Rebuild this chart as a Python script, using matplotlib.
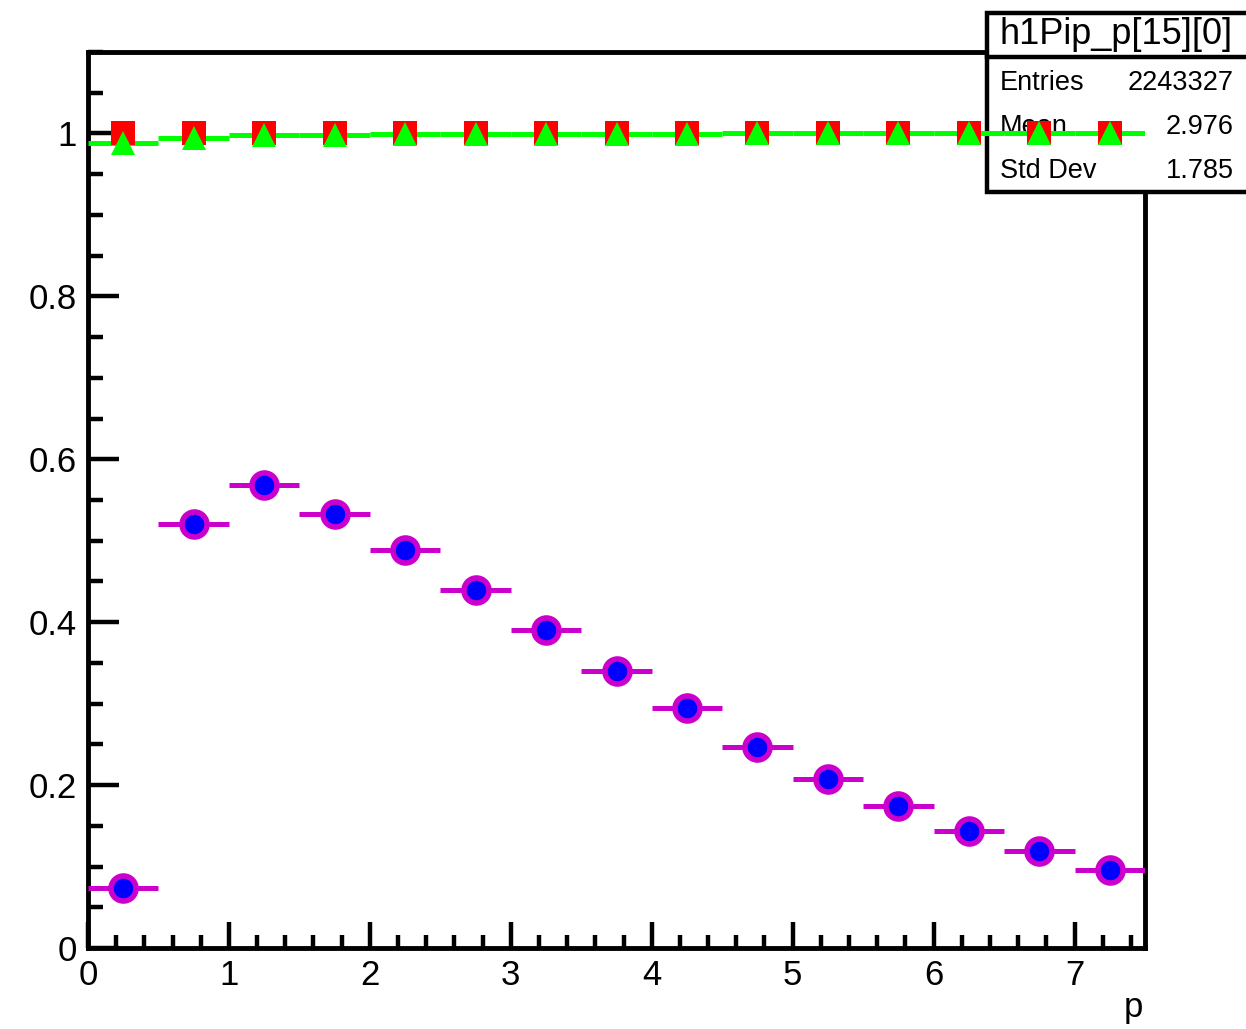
import numpy as np
import matplotlib
matplotlib.use("Agg")
import matplotlib.pyplot as plt
from matplotlib.ticker import MultipleLocator
from matplotlib.lines import Line2D
from matplotlib.patches import Rectangle

plt.rcParams['font.family'] = ['Liberation Sans', 'DejaVu Sans']

# bin edges in p (width 0.5)
bin_edges = np.arange(0, 7.51, 0.5)
bin_centers = 0.5 * (bin_edges[:-1] + bin_edges[1:])

# ratio values
blue_vals = [0.074, 0.521, 0.569, 0.533, 0.489, 0.440, 0.390, 0.340,
             0.295, 0.247, 0.208, 0.174, 0.144, 0.119, 0.096]
red_vals = [1.0] * 15
green_vals = [0.988, 0.995, 0.998, 0.998, 0.999, 0.999, 0.999, 0.9995,
              0.9995, 1.0, 1.0, 1.0, 1.0, 1.0, 1.0]

# stats box text
stat_title = "h1Pip_p[15][0]"
stat_labels = ["Entries", "Mean", "Std Dev"]
stat_values = ["2243327", "2.976", "1.785"]

W, H = 1246, 1029
fig = plt.figure(figsize=(W / 100, H / 100), dpi=100)
ax = fig.add_axes([88 / W, 1 - 948 / H, (1145 - 88) / W, (948 - 52) / H])

magenta = '#cc00cc'
xerr = 0.25

# blue points with magenta horizontal bars
ax.errorbar(bin_centers, blue_vals, xerr=xerr, fmt='o', color=magenta,
            ecolor=magenta, elinewidth=3.6, capsize=0,
            markerfacecolor='#0000ff', markeredgecolor=magenta,
            markersize=18, markeredgewidth=4, zorder=3)

# green step line, red squares, green triangles
ax.hlines(green_vals, bin_edges[:-1], bin_edges[1:], colors='#00ff00',
          linewidth=3.6, zorder=4)
ax.plot(bin_centers, red_vals, 's', color='#ff0000', markersize=17,
        markeredgewidth=0, zorder=5)
ax.plot(bin_centers, green_vals, '^', color='#00ff00', markersize=17,
        markeredgewidth=0, zorder=6)

ax.set_xlim(0, 7.5)
ax.set_ylim(0, 1.1)
ax.xaxis.set_major_locator(MultipleLocator(1))
ax.xaxis.set_minor_locator(MultipleLocator(0.2))
ax.yaxis.set_minor_locator(MultipleLocator(0.05))
ax.set_yticks([0, 0.2, 0.4, 0.6, 0.8, 1.0])
ax.set_yticklabels(["0", "0.2", "0.4", "0.6", "0.8", "1"])

for s in ax.spines.values():
    s.set_linewidth(3.5)
ax.tick_params(which='both', direction='in', top=False, right=False,
               width=3.2, labelsize=25, color='black')
ax.tick_params(axis='x', which='major', length=19, pad=8)
ax.tick_params(axis='x', which='minor', length=9.5)
ax.tick_params(axis='y', which='major', length=22, pad=8)
ax.tick_params(axis='y', which='minor', length=11)

fig.text(1143 / W, 1 - 1008 / H, "p", fontsize=25, ha='right', va='center')

# stats box: above the frame, below the data markers
bx0, by0, bx1, by1 = 987, 13, 1250, 192
box = Rectangle((bx0 / W, 1 - by1 / H), (bx1 - bx0) / W, (by1 - by0) / H,
                transform=fig.transFigure, facecolor='white',
                edgecolor='black', linewidth=3.2, zorder=2.6, clip_on=False)
ax.add_patch(box)
ax.add_line(Line2D([bx0 / W, bx1 / W], [1 - 57 / H, 1 - 57 / H],
                   transform=fig.transFigure, color='black',
                   linewidth=3.2, zorder=2.7, clip_on=False))
ax.text(1000 / W, 1 - 35 / H, stat_title, fontsize=26, ha='left',
        va='center', zorder=2.8, transform=fig.transFigure)
for i, (lab, val) in enumerate(zip(stat_labels, stat_values)):
    yy = 1 - (83 + 44 * i) / H
    ax.text(1000 / W, yy, lab, fontsize=19.5, ha='left', va='center',
            zorder=2.8, transform=fig.transFigure)
    ax.text(1234 / W, yy, val, fontsize=19.5, ha='right', va='center',
            zorder=2.8, transform=fig.transFigure)

fig.savefig("out.png", dpi=100)
